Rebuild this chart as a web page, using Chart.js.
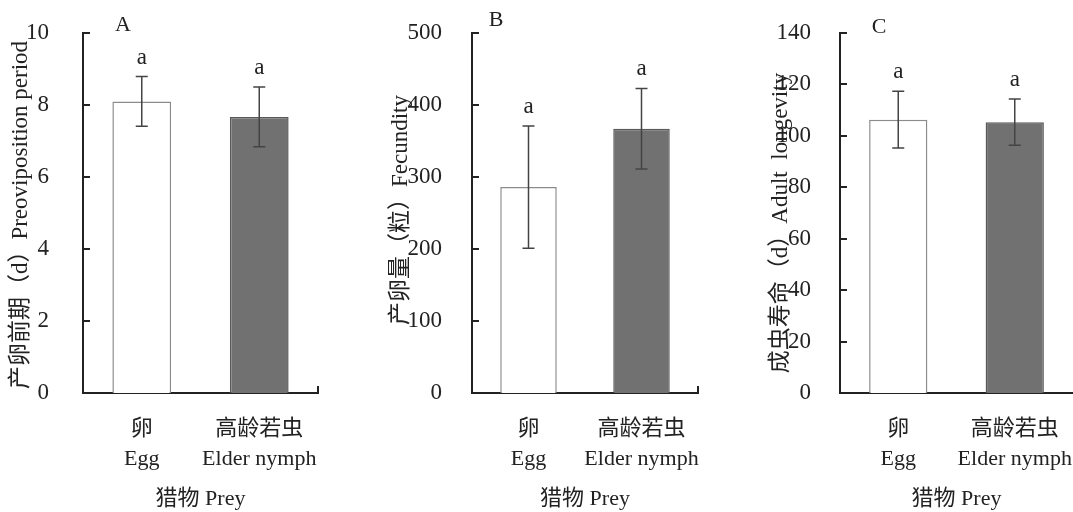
<!DOCTYPE html>
<html>
<head>
<meta charset="utf-8">
<script src="https://cdn.jsdelivr.net/npm/chart.js@4.4.1/dist/chart.umd.min.js"></script>
<style>
html,body{margin:0;padding:0;background:#fff;}
#wrap{position:relative;width:1073px;height:512px;overflow:hidden;background:#fff;}
.pane{position:absolute;top:0;height:512px;}
</style>
</head>
<body>
<div id="wrap">
  <div class="pane" id="pA" style="left:0;width:345px;"><canvas id="cA"></canvas></div>
  <div class="pane" id="pB" style="left:350px;width:370px;"><canvas id="cB"></canvas></div>
  <div class="pane" id="pC" style="left:720px;width:353px;"><canvas id="cC"></canvas></div>
</div>
<script>
// ---- data ----
const categoriesZh = ['卵', '高龄若虫'];
const categoriesEn = ['Egg', 'Elder nymph'];

const preovipositionMean = [8.1, 7.67];
const preovipositionSE   = [0.69, 0.83];
const preovipositionSig  = ['a', 'a'];
const preovipositionTicks = [0, 2, 4, 6, 8, 10];

const fecundityMean = [286, 367];
const fecunditySE   = [85, 56];
const fecunditySig  = ['a', 'a'];
const fecundityTicks = [0, 100, 200, 300, 400, 500];

const longevityMean = [106.3, 105.3];
const longevitySE   = [11, 9];
const longevitySig  = ['a', 'a'];
const longevityTicks = [0, 20, 40, 60, 80, 100, 120, 140];

const panelLetters = ['A', 'B', 'C'];
const yTitles = ['产卵前期（d）Preoviposition period', '产卵量（粒）Fecundity', '成虫寿命（d）Adult  longevity'];
const xTitle = '猎物 Prey';

// ---- style ----
const FONT = "'Liberation Serif', 'Noto Sans CJK SC', serif";
const barFill = ['#ffffff', '#717171'];
const barBorder = ['#8c8c8c', '#595959'];

function makePanel(canvasId, opts) {
  const labels = categoriesZh.map((z, i) => [z, categoriesEn[i]]);
  const overlay = {
    id: 'overlay',
    afterDatasetsDraw(chart) {
      const ctx = chart.ctx;
      const ca = chart.chartArea;
      const ys = chart.scales.y;
      const meta = chart.getDatasetMeta(0);
      ctx.save();
      // inward y ticks
      ctx.strokeStyle = '#222';
      ctx.lineWidth = 2;
      opts.ticks.forEach(v => {
        const py = Math.round(ys.getPixelForValue(v));
        ctx.beginPath();
        ctx.moveTo(ca.left, py);
        ctx.lineTo(ca.left + 7, py);
        ctx.stroke();
      });
      // right end tick of x axis
      if (opts.endTick) {
        ctx.beginPath();
        ctx.moveTo(ca.right, ca.bottom + 1);
        ctx.lineTo(ca.right, ca.bottom - 7);
        ctx.stroke();
      }
      // error bars + significance letters
      ctx.strokeStyle = '#444';
      ctx.lineWidth = 1.5;
      meta.data.forEach((bar, i) => {
        const x = bar.x;
        const hi = ys.getPixelForValue(opts.mean[i] + opts.se[i]);
        const lo = ys.getPixelForValue(opts.mean[i] - opts.se[i]);
        ctx.beginPath();
        ctx.moveTo(x, hi); ctx.lineTo(x, lo);
        ctx.moveTo(x - 6, hi); ctx.lineTo(x + 6, hi);
        ctx.moveTo(x - 6, lo); ctx.lineTo(x + 6, lo);
        ctx.stroke();
        ctx.fillStyle = '#222';
        ctx.font = '23px ' + FONT;
        ctx.textAlign = 'center';
        ctx.textBaseline = 'alphabetic';
        ctx.fillText(opts.sig[i], x, hi - 13);
      });
      // panel letter
      ctx.fillStyle = '#222';
      ctx.font = '22px ' + FONT;
      ctx.textAlign = 'center';
      ctx.textBaseline = 'middle';
      ctx.fillText(opts.letter, ca.left + opts.letterDx, opts.letterY);
      // x title
      ctx.fillText(xTitle, (ca.left + ca.right) / 2, 499);
      // y title
      ctx.save();
      ctx.translate(ca.left - opts.titleDx, opts.titleY);
      ctx.rotate(-Math.PI / 2);
      ctx.font = '23px ' + FONT;
      ctx.textAlign = 'center';
      ctx.textBaseline = 'middle';
      ctx.fillText(opts.title, 0, 0);
      ctx.restore();
      ctx.restore();
    }
  };
  return new Chart(document.getElementById(canvasId), {
    type: 'bar',
    data: {
      labels: labels,
      datasets: [{
        data: opts.mean,
        backgroundColor: barFill,
        borderColor: barBorder,
        borderWidth: 1.5,
        categoryPercentage: 1.0,
        barPercentage: 0.5
      }]
    },
    options: {
      responsive: true,
      maintainAspectRatio: false,
      animation: false,
      layout: { padding: { left: 0, right: opts.padRight, top: 33, bottom: 0 } },
      plugins: { legend: { display: false }, tooltip: { enabled: false } },
      scales: {
        x: {
          offset: true,
          grid: { display: false },
          border: { display: true, color: '#222', width: 2 },
          ticks: {
            color: '#222',
            font: { family: FONT, size: 22, lineHeight: 1.36 },
            padding: 13,
            maxRotation: 0,
            autoSkip: false
          },
          afterFit(s) { s.height = 119; s.paddingLeft = 0; s.paddingRight = 0; }
        },
        y: {
          min: opts.ticks[0],
          max: opts.ticks[opts.ticks.length - 1],
          afterBuildTicks(s) { s.ticks = opts.ticks.map(v => ({ value: v })); },
          grid: { display: false },
          border: { display: true, color: '#222', width: 2 },
          ticks: {
            color: '#222',
            font: { family: FONT, size: 23 },
            padding: opts.tickPad
          },
          afterFit(s) { s.width = opts.yWidth; s.paddingTop = 0; s.paddingBottom = 0; }
        }
      }
    },
    plugins: [overlay]
  });
}

makePanel('cA', {
  mean: preovipositionMean, se: preovipositionSE, sig: preovipositionSig, ticks: preovipositionTicks,
  letter: panelLetters[0], title: yTitles[0],
  yWidth: 83, padRight: 27, tickPad: 26, endTick: true,
  letterDx: 40, letterY: 25, titleDx: 62, titleY: 215
});
makePanel('cB', {
  mean: fecundityMean, se: fecunditySE, sig: fecunditySig, ticks: fecundityTicks,
  letter: panelLetters[1], title: yTitles[1],
  yWidth: 122, padRight: 22, tickPad: 22, endTick: true,
  letterDx: 24, letterY: 20, titleDx: 71, titleY: 210
});
makePanel('cC', {
  mean: longevityMean, se: longevitySE, sig: longevitySig, ticks: longevityTicks,
  letter: panelLetters[2], title: yTitles[2],
  yWidth: 120, padRight: 0, tickPad: 21, endTick: false,
  letterDx: 39, letterY: 27, titleDx: 59, titleY: 223
});
</script>
</body>
</html>
